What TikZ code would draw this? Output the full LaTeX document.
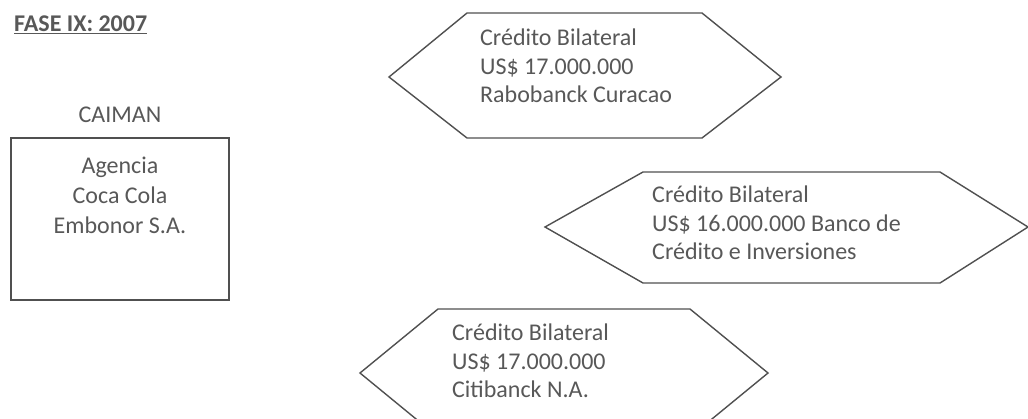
\documentclass[tikz,border=0pt]{standalone}
\usepackage{fontspec}
\setmainfont{Carlito}
\usepackage{tikz}
\usetikzlibrary{positioning}
\definecolor{inkgray}{RGB}{88,88,88}
\definecolor{linegray}{RGB}{80,80,80}

\tikzset{
  hexline/.style={draw=linegray, line width=1.4pt, line join=miter},
  credtext/.style={text=inkgray, align=left, anchor=north west, inner sep=0pt,
    font=\fontsize{24}{28.5}\selectfont},
  boxtext/.style={text=inkgray, align=center, inner sep=0pt,
    font=\fontsize{24}{30}\selectfont},
}

\begin{document}
\begin{tikzpicture}[x=1pt,y=-1pt]
\useasboundingbox (0,0) rectangle (1028,418);

% title
\node[anchor=west, inner sep=0pt, text=inkgray, font=\bfseries\fontsize{24}{28}\selectfont] (fase) at (14,25) {\underline{FASE IX: 2007}};

% agency box
\node[draw=linegray, line width=1.4pt, minimum width=218pt, minimum height=162pt, inner sep=0pt] (caja) at (120,219) {};
\node[boxtext, above=14pt of caja.north] (caiman) {CAIMAN};
\node[boxtext, below=19pt of caja.north] (agencia) {Agencia\\Coca Cola\\Embonor S.A.};

% credit hexagons
\draw[hexline] (389,77) -- (467,13) -- (702,13) -- (781,77) -- (702,138) -- (467,138) -- cycle;
\node[credtext] (rabo) at (480,29) {Crédito Bilateral\\US\$ 17.000.000\\Rabobanck Curacao};

\draw[hexline] (545,227) -- (643,172) -- (940,172) -- (1028,227) -- (940,283) -- (643,283) -- cycle;
\node[credtext] (bci) at (652,186) {Crédito Bilateral\\US\$ 16.000.000 Banco de\\Crédito e Inversiones};

\draw[hexline] (360,373) -- (438,309) -- (690,309) -- (768,373) -- (690,437) -- (438,437) -- cycle;
\node[credtext] (citi) at (452,324) {Crédito Bilateral\\US\$ 17.000.000\\Citibanck N.A.};
\end{tikzpicture}
\end{document}
